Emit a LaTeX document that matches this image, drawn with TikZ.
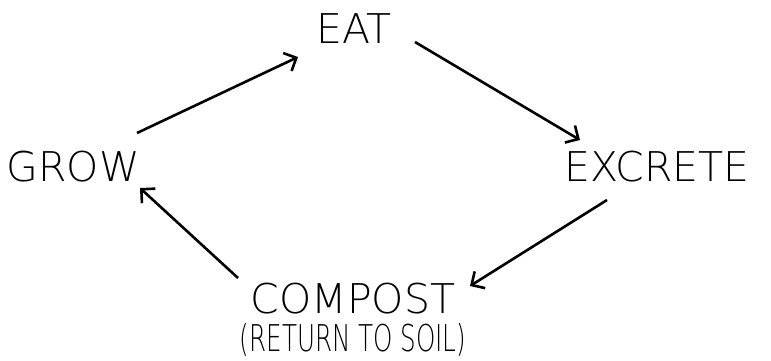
\documentclass[tikz,border=0pt]{standalone}
\usepackage{fontspec}
\setmainfont{DejaVu Sans ExtraLight}
\usetikzlibrary{arrows.meta, calc}

\begin{document}
\begin{tikzpicture}[
  x=1pt, y=-1pt,
  stage/.style={inner sep=0pt, text height=30pt, text depth=0pt, font=\fontsize{41}{44}\selectfont},
  arr/.style={-{Straight Barb[angle=90:14pt]}, line width=2.6pt}
]
  \useasboundingbox (0,0) rectangle (771,360);

  \node[stage] (eat) at (354, 28) {EAT};
  \node[stage] (grow) at (73, 166) {GROW};
  \node[stage] (excr) at (657, 166) {EXCRETE};
  \node[stage] (comp) at (353, 298) {COMPOST};
  \node[stage] (soil) at (353, 336) {\scalebox{0.6}[0.9]{(RETURN TO SOIL)}};

  % Cycle arrows
  \draw[arr] ($(grow)+(64,-33)$) -- ($(eat)+(-56,29)$);
  \draw[arr] ($(eat)+(61,14)$) -- ($(excr)+(-77,-26)$);
  \draw[arr] ($(excr)+(-50,34)$) -- ($(comp)+(117,-12)$);
  \draw[arr] ($(comp)+(-115,-20)$) -- ($(grow)+(67,22)$);
\end{tikzpicture}
\end{document}
